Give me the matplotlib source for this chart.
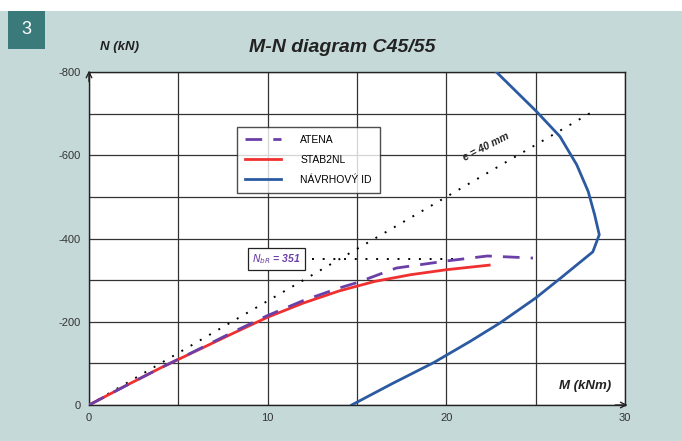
import matplotlib
matplotlib.use("Agg")
import matplotlib.pyplot as plt
from matplotlib.patches import Rectangle

plt.rcParams["axes.unicode_minus"] = False

# Data
atena_M = [0, 2, 4, 6, 8, 10, 12, 14, 15, 17.2, 20, 22.3, 24.85]
atena_N = [0, -45, -89, -131, -174, -215, -251, -281, -294, -329, -346, -358, -353]
stab_M = [0, 2, 4, 6, 8, 10, 12, 14, 16, 18, 20, 22.4]
stab_N = [0, -45, -89, -130, -171, -211, -245, -274, -297, -313, -325, -336]
id_M = [14.7, 17.0, 19.3, 21.3, 23.0, 25.0, 26.4, 28.2, 28.56, 28.3, 27.94, 27.3, 26.36, 25.05, 22.8]
id_N = [0, -52, -102, -152, -197, -257, -305, -368, -409, -457, -513, -577, -645, -705, -800]
ecc_M = [0, 28.2]
ecc_N = [0, -705]
nbr_M = [12.5, 20.4]
nbr_N = [-351, -351]
xticks = [0, 10, 20, 30]
yticks = [0, -200, -400, -600, -800]

BG = "#c6d9d9"
fig = plt.figure(figsize=(6.82, 4.41), dpi=100)
fig.patch.set_facecolor(BG)
fig.patches.append(Rectangle((0, 1 - 11/441), 1, 11/441, transform=fig.transFigure,
                             facecolor="white", edgecolor="none", zorder=0))
fig.patches.append(Rectangle((8/682, 1 - 49/441), 37/682, 38/441, transform=fig.transFigure,
                             facecolor="#3a7a7a", edgecolor="none", zorder=1))
fig.text(26.5/682, 1 - 30/441, "3", color="white", fontsize=13, ha="center", va="center",
         family="Liberation Sans")

ax = fig.add_axes([89/682, 1 - 405/441, 536/682, 333/441])
ax.set_facecolor("white")
ax.set_xlim(0, 30)
ax.set_ylim(0, -800)
ax.set_xticks(xticks)
ax.set_yticks(yticks)
ax.set_xticks(range(0, 31, 5), minor=True)
ax.set_yticks(range(0, -801, -100), minor=True)
ax.grid(True, which="both", color="#333333", lw=0.9)
ax.tick_params(which="both", length=0, labelsize=8, colors="#333333", pad=6)
for lab in ax.get_xticklabels() + ax.get_yticklabels():
    lab.set_family("Liberation Sans")
for s in ax.spines.values():
    s.set_color("#222222")
    s.set_linewidth(1.0)

ax.plot(ecc_M, ecc_N, linestyle=(0, (1, 4.5)), color="black", lw=1.4, zorder=3)
ax.plot(nbr_M, nbr_N, linestyle=(0, (1, 4.5)), color="black", lw=1.4, zorder=3)
ax.plot(id_M, id_N, color="#2c5aa0", lw=2, label="NÁVRHOVÝ ID", zorder=4)
ax.plot(stab_M, stab_N, color="#f03030", lw=2, label="STAB2NL", zorder=5)
ax.plot(atena_M, atena_N, color="#6a3fa8", lw=2, dashes=(6, 4), label="ATENA", zorder=6)

h, l = ax.get_legend_handles_labels()
order = [2, 1, 0]
leg = ax.legend([h[i] for i in order], [l[i] for i in order], loc="upper left",
                bbox_to_anchor=(143/536, 1 - 50/333), frameon=True, fancybox=False,
                edgecolor="#222222", handlelength=3.5, labelspacing=0.95,
                borderpad=0.75, handletextpad=1.8,
                prop={"family": "Liberation Sans", "size": 7.5})
leg.get_frame().set_linewidth(1.0)

ax.text(9.15, -351, r"$\mathit{N}_{\mathit{bR}}$ = 351", color="#6a3fa8", fontsize=7.5,
        fontweight="bold", ha="left", va="center", family="Liberation Sans", style="italic",
        bbox=dict(boxstyle="square,pad=0.4", facecolor="white", edgecolor="#222222", lw=0.9),
        zorder=7)
ax.text(22.2, -620, "e = 40 mm", rotation=27, fontsize=7.5, fontweight="bold", style="italic",
        family="Liberation Sans", ha="center", va="center", color="#222222")
ax.text(29.2, -45, "M (kNm)", fontsize=9.5, fontweight="bold", style="italic",
        family="Liberation Sans", ha="right", va="center", color="#222222")

ax.annotate("", xy=(30.3, 0), xytext=(29.3, 0), annotation_clip=False,
            arrowprops=dict(arrowstyle="->", color="#222222", lw=1))
ax.annotate("", xy=(0, -810), xytext=(0, -770), annotation_clip=False,
            arrowprops=dict(arrowstyle="->", color="#222222", lw=1))

fig.text(100/682, 1 - 47/441, "N (kN)", fontsize=9.5, fontweight="bold", style="italic",
         family="Liberation Sans", ha="left", va="center", color="#222222")
fig.text(342/682, 1 - 47/441, "M-N diagram C45/55", fontsize=14, fontweight="bold",
         style="italic", family="Liberation Sans", ha="center", va="center", color="#222222")

fig.savefig("out.png", dpi=100, facecolor=fig.get_facecolor())
